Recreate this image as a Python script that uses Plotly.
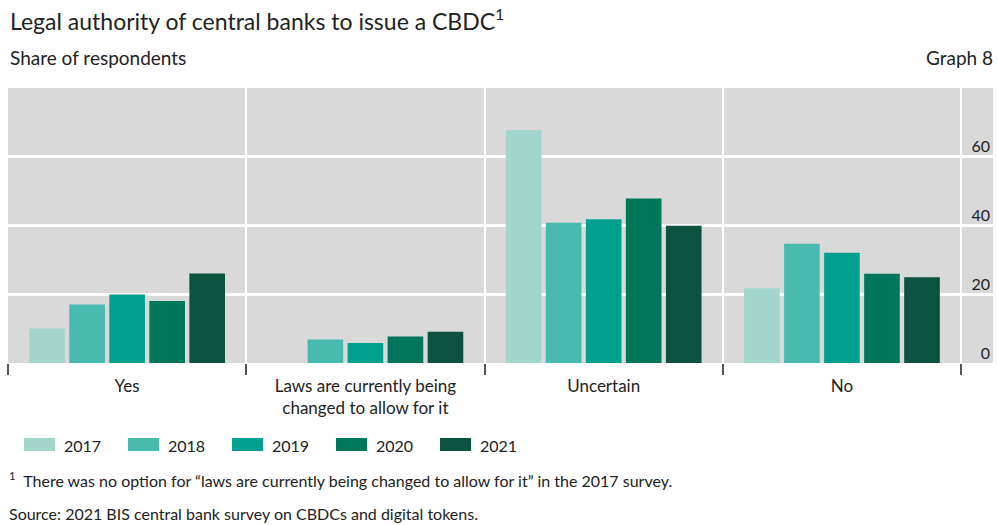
import plotly.graph_objects as go

# ---- data ----
categories = ["Yes", "Laws are currently being<br>changed to allow for it", "Uncertain", "No"]
years = ["2017", "2018", "2019", "2020", "2021"]
v2017 = [10.0, None, 67.6, 21.7]
v2018 = [17.0, 6.8, 40.7, 34.6]
v2019 = [19.9, 5.8, 41.7, 32.0]
v2020 = [18.0, 7.7, 47.7, 25.9]
v2021 = [26.0, 9.1, 39.8, 24.9]
series = [v2017, v2018, v2019, v2020, v2021]
y_ticks = [0, 20, 40, 60]

colors = ["#a2d5cc", "#48bab0", "#00a08e", "#00765b", "#0c5240"]

FONT = "Lato, 'Open Sans', sans-serif"
TXT = "#222222"

W, H = 998, 525
L, R, T, B = 8, 993, 88, 363


def px(x):
    return (x - L) / (R - L)


def py(y):
    return (B - y) / (B - T)


fig = go.Figure()
for yr, vals, c in zip(years, series, colors):
    fig.add_trace(go.Bar(x=categories, y=vals, name=yr, marker=dict(color=c, line=dict(width=0)),
                         showlegend=False))

fig.update_layout(
    width=W, height=H,
    margin=dict(l=L, r=W - R, t=T, b=H - B),
    paper_bgcolor="white",
    plot_bgcolor="#d9d9d9",
    barmode="group",
    bargap=0.16,
    bargroupgap=0.11,
    font=dict(family=FONT, color=TXT, size=17),
    xaxis=dict(
        range=[-0.5, 3.634],
        tickson="boundaries",
        showgrid=True, gridcolor="white", gridwidth=1.5,
        ticks="outside", ticklen=11, tickwidth=2, tickcolor="#555555",
        tickfont=dict(size=17, color=TXT, family=FONT),
        showline=False, zeroline=False,
        ticklabelstandoff=11,
    ),
    yaxis=dict(
        range=[0, 79.8],
        tickvals=y_ticks,
        side="right",
        ticklabelposition="inside",
        ticklabeloverflow="allow",
        ticklabelshift=-10,
        ticks="",
        showgrid=True, gridcolor="white", gridwidth=2.5,
        zeroline=False, showline=False,
        tickfont=dict(size=16, color=TXT, family=FONT),
    ),
)

annotations = [
    dict(text="Legal authority of central banks to issue a CBDC<sup>1</sup>", x=px(8), y=py(20),
         font=dict(size=23)),
    dict(text="Share of respondents", x=px(8), y=py(58), font=dict(size=19)),
    dict(text="Graph 8", x=px(995), y=py(58), xanchor="right", font=dict(size=19)),
    dict(text="<sup>1</sup>  There was no option for \u201claws are currently being changed to allow for it\u201d in the 2017 survey.",
         x=px(7), y=py(479), font=dict(size=16)),
    dict(text="Source: 2021 BIS central bank survey on CBDCs and digital tokens.", x=px(7), y=py(513),
         font=dict(size=16)),
]
shapes = []
leg_x = [24, 128, 232, 336, 440]
for yr, c, lx in zip(years, colors, leg_x):
    shapes.append(dict(type="rect", xref="paper", yref="paper", x0=px(lx), x1=px(lx + 31),
                       y0=py(451), y1=py(438), fillcolor=c, line=dict(width=0)))
    annotations.append(dict(text=yr, x=px(lx + 38), y=py(445), font=dict(size=16)))

for a in annotations:
    a.setdefault("xanchor", "left")
    a.update(xref="paper", yref="paper", yanchor="middle", showarrow=False)
    a["font"] = dict(family=FONT, color=TXT, **a["font"])

fig.update_layout(annotations=annotations, shapes=shapes)
fig.write_html("out.html", config={"displayModeBar": False},
               post_script="document.body.style.margin='0px';document.body.style.overflow='hidden';")
